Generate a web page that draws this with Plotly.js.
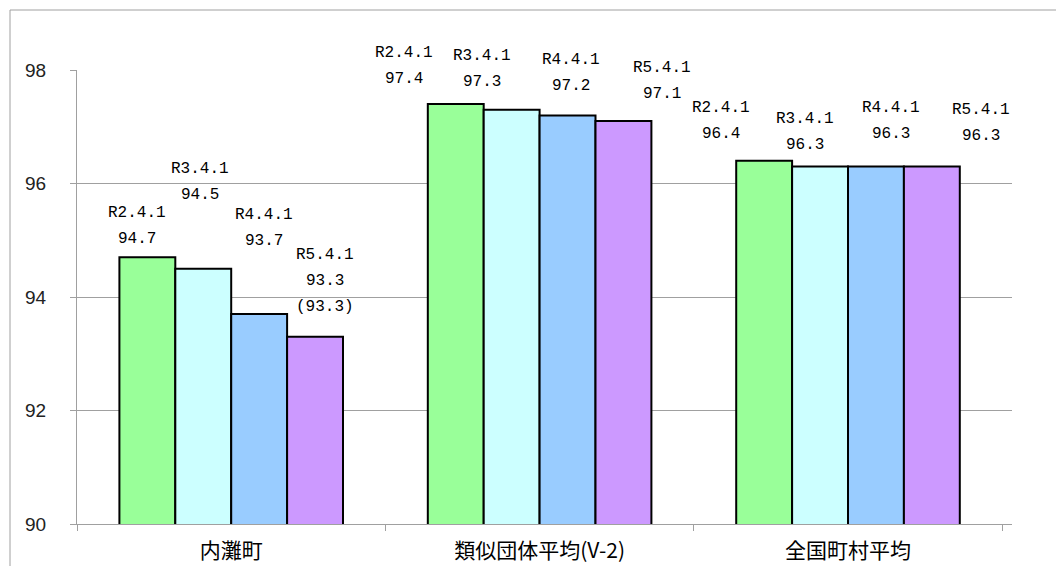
<!DOCTYPE html>
<html>
<head>
<meta charset="utf-8">
<script src="https://cdn.plot.ly/plotly-3.0.1.min.js"></script>
<style>
html,body{margin:0;padding:0;background:#fff;}
#chart{width:1056px;height:566px;}
</style>
</head>
<body>
<div id="chart"></div>
<script>
// ---- data ----
var categories = ["内灘町", "類似団体平均(V-2)", "全国町村平均"];
var seriesNames = ["R2.4.1", "R3.4.1", "R4.4.1", "R5.4.1"];
var valuesR2 = [94.7, 97.4, 96.4];
var valuesR3 = [94.5, 97.3, 96.3];
var valuesR4 = [93.7, 97.2, 96.3];
var valuesR5 = [93.3, 97.1, 96.3];
// extra third line of label, indexed [series][category]
var extraNote = [["", "", ""], ["", "", ""], ["", "", ""], ["(93.3)", "", ""]];
var yTickVals = [90, 92, 94, 96, 98];

// ---- style ----
var colors = ["#99ff99", "#ccffff", "#99ccff", "#cc99ff"];
// label placement (pixel offsets from category centre / bar top), per series x category
var labelDx = [[-94, -136, -127], [-31, -58, -43], [33, 31, 43], [94, 122, 133]];
var labelDy = [[44, 51, 53], [100, 54, 47], [99, 55, 58], [82, 53, 56]];
var lineStep = 26;

var allValues = [valuesR2, valuesR3, valuesR4, valuesR5];
var traces = allValues.map(function (vals, i) {
  return {
    type: "bar",
    name: seriesNames[i],
    x: categories,
    y: vals,
    marker: { color: colors[i], line: { color: "#000", width: 2 } },
    hoverinfo: "none"
  };
});

var labelFont = { family: "Liberation Mono, DejaVu Sans Mono, monospace", size: 16, color: "#000" };
var annotations = [];
allValues.forEach(function (vals, i) {
  vals.forEach(function (v, j) {
    var lines = [seriesNames[i], v.toFixed(1)];
    if (extraNote[i][j]) lines.push(extraNote[i][j]);
    lines.forEach(function (t, k) {
      annotations.push({
        x: categories[j], y: v, xref: "x", yref: "y",
        text: t, showarrow: false, font: labelFont,
        xanchor: "center", yanchor: "middle",
        xshift: labelDx[i][j], yshift: labelDy[i][j] - k * lineStep
      });
    });
  });
});

var layout = {
  width: 1056, height: 566,
  margin: { l: 77, r: 44, t: 70, b: 42 },
  paper_bgcolor: "#fff", plot_bgcolor: "#fff",
  showlegend: false,
  barmode: "group",
  bargap: 0.275, bargroupgap: 0,
  xaxis: {
    type: "category",
    showline: true, linecolor: "#a0a0a0", linewidth: 1,
    ticks: "outside", tickson: "boundaries", ticklen: 6, tickcolor: "#a0a0a0",
    ticklabelstandoff: 8,
    showgrid: false,
    tickfont: { family: "Noto Sans CJK JP, sans-serif", size: 21, color: "#000" }
  },
  yaxis: {
    range: [90, 98], tickvals: yTickVals,
    showline: true, linecolor: "#a0a0a0", linewidth: 1,
    ticks: "outside", ticklen: 6, tickcolor: "#a0a0a0",
    ticklabelstandoff: 20,
    showgrid: true, gridcolor: "#a0a0a0", gridwidth: 1,
    zeroline: false,
    tickfont: { family: "Liberation Sans, Arial, sans-serif", size: 19, color: "#222" }
  },
  shapes: [{
    type: "rect", xref: "paper", yref: "paper",
    x0: (10 - 77) / 935, x1: (1070 - 77) / 935,
    y0: (524 - 580) / 454, y1: (524 - 10) / 454,
    line: { color: "#a0a0a0", width: 1 }, layer: "below"
  }],
  annotations: annotations
};

Plotly.newPlot("chart", traces, layout, { staticPlot: true });
</script>
</body>
</html>
